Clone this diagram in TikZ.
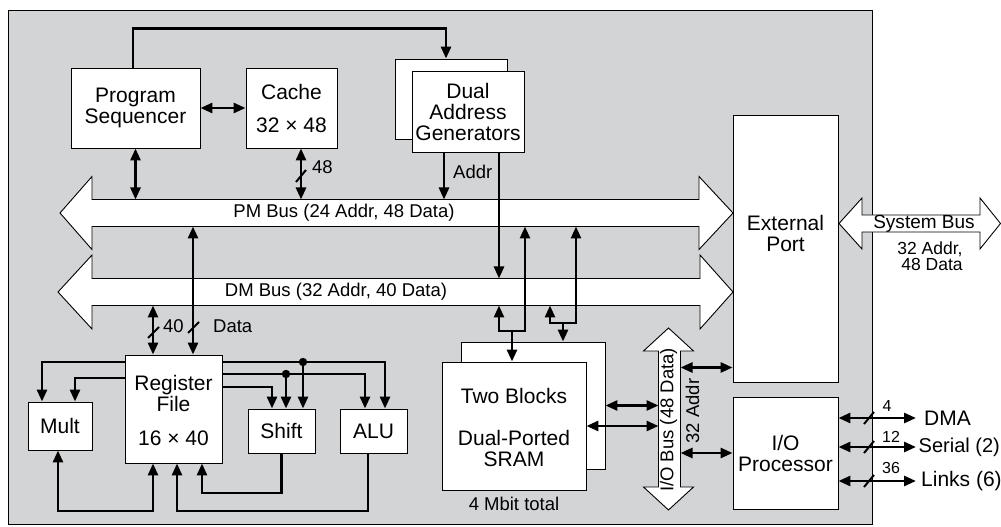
\documentclass[tikz,border=0pt]{standalone}
\usepackage{fontspec}
\setmainfont{Liberation Sans}
\usetikzlibrary{arrows.meta,calc}
\definecolor{bg}{RGB}{211,212,214}
\tikzset{
  box/.style={draw=black, line width=0.9bp, fill=white, inner sep=0pt, align=center,
    font=\fontsize{21bp}{21bp}\selectfont},
  btxt/.style={inner sep=0pt, align=center, font=\fontsize{21bp}{21bp}\selectfont},
  lbl/.style={inner sep=0pt, align=center, font=\fontsize{18.5bp}{18.5bp}\selectfont},
  sml/.style={inner sep=0pt, font=\fontsize{16bp}{16bp}\selectfont},
  bus/.style={draw=black, line width=0.9bp, fill=white},
  conn/.style={line width=2.7bp},
  arr/.style={conn, -{Triangle[length=12bp,width=10bp]}},
  dbl/.style={conn, {Triangle[length=12bp,width=10bp]}-{Triangle[length=12bp,width=10bp]}},
  slash/.style={line width=2bp},
}
\begin{document}
\begin{tikzpicture}[x=1bp,y=-1bp]
\useasboundingbox (0,0) rectangle (1001,527);
\fill[white] (0,0) rectangle (1001,527);
\draw[line width=0.9bp, fill=bg] (8,10) rectangle (872,524);

% buses
\draw[bus] (60,213) -- (92,176.5) -- (92,199.5) -- (699,199.5) -- (699,176.5) -- (733,213)
  -- (699,249.5) -- (699,226.5) -- (92,226.5) -- (92,249.5) -- cycle;
\draw[bus] (58,292) -- (92,255) -- (92,278.5) -- (700,278.5) -- (700,255) -- (733,292)
  -- (700,329) -- (700,305.5) -- (92,305.5) -- (92,329) -- cycle;
\draw[bus] (839,223.5) -- (862,198) -- (862,215) -- (980,215) -- (980,198) -- (1000.5,223.5)
  -- (980,249) -- (980,232) -- (862,232) -- (862,249) -- cycle;
\draw[bus] (668.5,328) -- (693.5,351) -- (680.5,351) -- (680.5,487) -- (693.5,487) -- (668.5,510)
  -- (643.5,487) -- (658.5,487) -- (658.5,351) -- (643.5,351) -- cycle;

\node[lbl] at (344,213) {PM Bus (24 Addr, 48 Data)};
\node[lbl] at (336,292) {DM Bus (32 Addr, 40 Data)};
\node[lbl,rotate=90] at (668.5,420) {I/O Bus (48 Data)};
\node[lbl,rotate=90] at (692.5,411) {32 Addr};
\node[inner sep=0pt, font=\fontsize{19bp}{19bp}\selectfont] at (924,224) {System Bus};
\node[inner sep=0pt, align=center, font=\fontsize{17.5bp}{16bp}\selectfont] at (930,256) {32 Addr,\\\hspace*{4bp}48 Data};

% bus edge coordinates
\coordinate (pmt) at (0,199.5);
\coordinate (pmb) at (0,226.5);
\coordinate (dmt) at (0,278.5);
\coordinate (dmb) at (0,305.5);
\coordinate (iobl) at (658.5,0);
\coordinate (iobr) at (680.5,0);

% boxes
\node[box, minimum width=129bp, minimum height=80bp] (ps) at (135.5,108) {Program\\Sequencer};
\node[box, minimum width=91bp, minimum height=80bp] (cache) at (291.5,108) {Cache\\[12bp]32 × 48};
\node[box, minimum width=112bp, minimum height=80bp] (dagb) at (451,99) {};
\node[box, minimum width=112bp, minimum height=81bp] (dag) at (468,111.5) {Dual\\Address\\Generators};
\node[box, minimum width=105bp, minimum height=267bp] (ext) at (785.5,248.5) {};
\node[btxt] at (785.5,233) {External\\Port};
\node[box, minimum width=105bp, minimum height=112bp] (iop) at (785.5,453) {I/O\\Processor};
\node[box, minimum width=97bp, minimum height=108bp] (rf) at (173.5,409) {};
\node[btxt] at (173.5,410) {Register\\File\\[13bp]16 × 40};
\node[box, minimum width=64bp, minimum height=48bp] (mult) at (60,426) {Mult};
\node[box, minimum width=67bp, minimum height=44bp] (shift) at (281.5,431) {Shift};
\node[box, minimum width=67bp, minimum height=44bp] (alu) at (373.5,431) {ALU};
\node[box, minimum width=144bp, minimum height=127bp] (sramb) at (533,405.5) {};
\node[box, minimum width=144bp, minimum height=128bp] (sram) at (514,426) {};
\node[btxt] at (514,427.5) {Two Blocks\\[21bp]Dual-Ported\\SRAM};
\node[lbl] at (514,504) {4 Mbit total};

% x positions
\coordinate (xc) at (301,0);
\coordinate (xA) at (444,0);
\coordinate (xD) at (499,0);
\coordinate (x153) at (153,0);
\coordinate (x193) at (193,0);
\coordinate (x512) at (512,0);
\coordinate (x525) at (525,0);
\coordinate (x550) at (550,0);
\coordinate (x563) at (563,0);
\coordinate (x576) at (576,0);
\coordinate (jL) at (0,331);
\coordinate (jR) at (0,323);

% top connectors
\draw[arr] ([xshift=-2.5bp]ps.north) -- ++(0,-39) -| ([xshift=-5bp]dagb.north);
\draw[dbl] (ps.east) -- (cache.west);
\draw[dbl] (ps.south) -- (ps.south |- pmt);
\draw[dbl] (cache.south -| xc) -- (pmt -| xc);
\draw[slash] (296,182) -- (306,170);
\node[lbl, anchor=west] at (312,167) {48};
\draw[arr] (dag.south -| xA) -- (pmt -| xA);
\node[lbl, anchor=west] at (453,172) {Addr};
\draw[arr] (dag.south -| xD) -- (dmt -| xD);

% register file to buses
\draw[dbl] (dmb -| x153) -- (rf.north -| x153);
\draw[dbl] (pmb -| x193) -- (rf.north -| x193);
\draw[slash] (148,338) -- (159,327);
\draw[slash] (188,333) -- (199,322);
\node[lbl, anchor=west] at (163,326) {40};
\node[lbl, anchor=west] at (213,326) {Data};

% SRAM to buses
\draw[dbl] (dmb -| xD) -- (jL -| xD) -- (jL -| x525) -- (pmb -| x525);
\draw[arr] (jL -| x512) -- (sram.north -| x512);
\draw[dbl] (dmb -| x550) -- (jR -| x550) -- (jR -| x576) -- (pmb -| x576);
\draw[arr] (jR -| x563) -- (sramb.north -| x563);

% SRAM to I/O bus
\draw[dbl] (sramb.east) -- (sramb.east -| iobl);
\draw[dbl] (sram.east) -- (sram.east -| iobl);
% I/O bus to port / processor
\coordinate (y367) at (0,367.5);
\draw[dbl] (y367 -| iobr) -- (y367 -| ext.west);
\draw[dbl] (iop.west -| iobr) -- (iop.west);

% I/O processor outputs
\coordinate (dma) at (916,418);
\coordinate (ser) at (916,447);
\coordinate (lnk) at (916,481);
\draw[dbl] (dma -| iop.east) -- (dma);
\draw[dbl] (ser -| iop.east) -- (ser);
\draw[dbl] (lnk -| iop.east) -- (lnk);
\draw[slash] (864,424) -- (874,412);
\draw[slash] (864,453) -- (874,441);
\draw[slash] (864,487) -- (874,475);
\node[sml] at (887,406) {4};
\node[sml] at (891,437) {12};
\node[sml] at (891,468) {36};
\node[btxt, anchor=west] at (924,418) {DMA};
\node[btxt, anchor=west, font=\fontsize{20bp}{20bp}\selectfont] at (918.5,447) {Serial (2)};
\node[btxt, anchor=west] at (921,481) {Links (6)};

% register file internal connections
\coordinate (x42) at (42,0);
\coordinate (x75) at (75,0);
\coordinate (x58) at (58,0);
\coordinate (x177) at (177,0);
\coordinate (x202) at (202,0);
\coordinate (x272) at (272,0);
\coordinate (x286) at (286,0);
\coordinate (x303) at (303,0);
\coordinate (x365) at (365,0);
\coordinate (x368) at (368,0);
\coordinate (x385) at (385,0);
\coordinate (y362) at (0,362);
\coordinate (y374) at (0,374);
\coordinate (y378) at (0,378);
\coordinate (y387) at (0,387);
\coordinate (y493) at (0,493);
\coordinate (y511) at (0,511);
\draw[arr] (rf.west |- y362) -| (mult.north -| x42);
\draw[arr] (rf.west |- y378) -| (mult.north -| x75);
\draw[arr] (rf.east |- y362) -| (alu.north -| x385);
\draw[arr] (rf.east |- y374) -| (alu.north -| x365);
\draw[arr] (rf.east |- y387) -| (shift.north -| x272);
\fill (y362 -| x303) circle (4.2bp);
\fill (y374 -| x286) circle (4.2bp);
\draw[arr] (y362 -| x303) -- (shift.north -| x303);
\draw[arr] (y374 -| x286) -- (shift.north -| x286);
\draw[dbl] (mult.south -| x58) -- (y511 -| x58) -- (y511 -| x153) -- (rf.south -| x153);
\draw[arr] (alu.south -| x368) -- (y511 -| x368) -- (y511 -| x177) -- (rf.south -| x177);
\draw[arr] (shift.south) -- (shift.south |- y493) -- (y493 -| x202) -- (rf.south -| x202);
\end{tikzpicture}
\end{document}
